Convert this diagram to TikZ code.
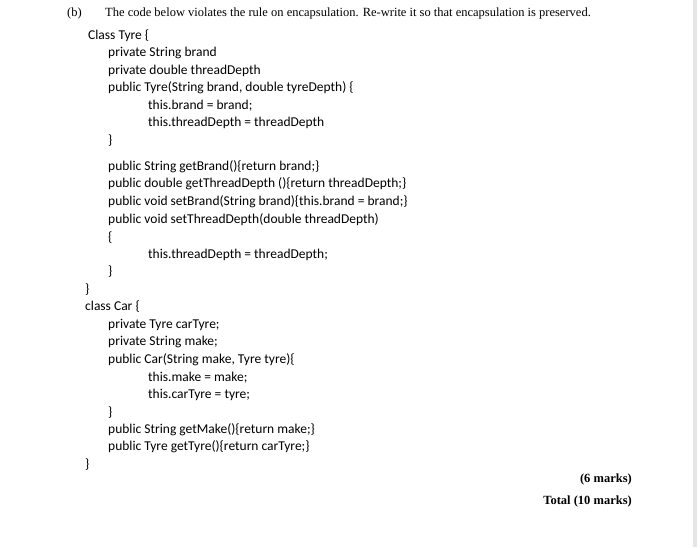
\documentclass[tikz,border=0pt]{standalone}
\usepackage{fontspec}
\setmainfont{Liberation Serif}
\newfontfamily\codefont{Carlito}
\begin{document}
\begin{tikzpicture}[x=1pt,y=1pt,
  hd/.style={anchor=west,inner sep=0pt,font=\fontsize{12.5}{14}\selectfont},
  cd/.style={anchor=west,inner sep=0pt,font=\codefont\fontsize{13.5}{15}\selectfont},
  mk/.style={anchor=east,inner sep=0pt,font=\bfseries\fontsize{12.5}{14}\selectfont}]
\useasboundingbox (0,0) rectangle (700,-547);
\fill[black!10] (693,0) rectangle (697,-547);
\node[hd] (b) at (67,-13) {(b)};
\node[hd] (h) at (105,-13) {The code below violates the rule on encapsulation. Re-write it so that encapsulation is preserved.};
\node[cd] (c1) at (88,-36) {Class Tyre \{};
\node[cd] (c2) at (108,-53) {private String brand};
\node[cd] (c3) at (108,-71) {private double threadDepth};
\node[cd] (c4) at (108,-88) {public Tyre(String brand, double tyreDepth) \{};
\node[cd] (c5) at (148,-106) {this.brand = brand;};
\node[cd] (c6) at (148,-123) {this.threadDepth = threadDepth};
\node[cd] (c7) at (108,-141) {\}};
\node[cd] (c8) at (108,-167) {public String getBrand()\{return brand;\}};
\node[cd] (c9) at (108,-184) {public double getThreadDepth ()\{return threadDepth;\}};
\node[cd] (c10) at (108,-202) {public void setBrand(String brand)\{this.brand = brand;\}};
\node[cd] (c11) at (108,-220) {public void setThreadDepth(double threadDepth)};
\node[cd] (c12) at (108,-238) {\{};
\node[cd] (c13) at (148,-255) {this.threadDepth = threadDepth;};
\node[cd] (c14) at (108,-272) {\}};
\node[cd] (c15) at (85,-290) {\}};
\node[cd] (c16) at (85,-307) {class Car \{};
\node[cd] (c17) at (108,-325) {private Tyre carTyre;};
\node[cd] (c18) at (108,-342) {private String make;};
\node[cd] (c19) at (108,-360) {public Car(String make, Tyre tyre)\{};
\node[cd] (c20) at (148,-378) {this.make = make;};
\node[cd] (c21) at (148,-395) {this.carTyre = tyre;};
\node[cd] (c22) at (108,-413) {\}};
\node[cd] (c23) at (108,-430) {public String getMake()\{return make;\}};
\node[cd] (c24) at (108,-447) {public Tyre getTyre()\{return carTyre;\}};
\node[cd] (c25) at (85,-465) {\}};
\node[mk] (m1) at (632,-479) {(6 marks)};
\node[mk] (m2) at (632,-501) {Total (10 marks)};
\end{tikzpicture}
\end{document}
